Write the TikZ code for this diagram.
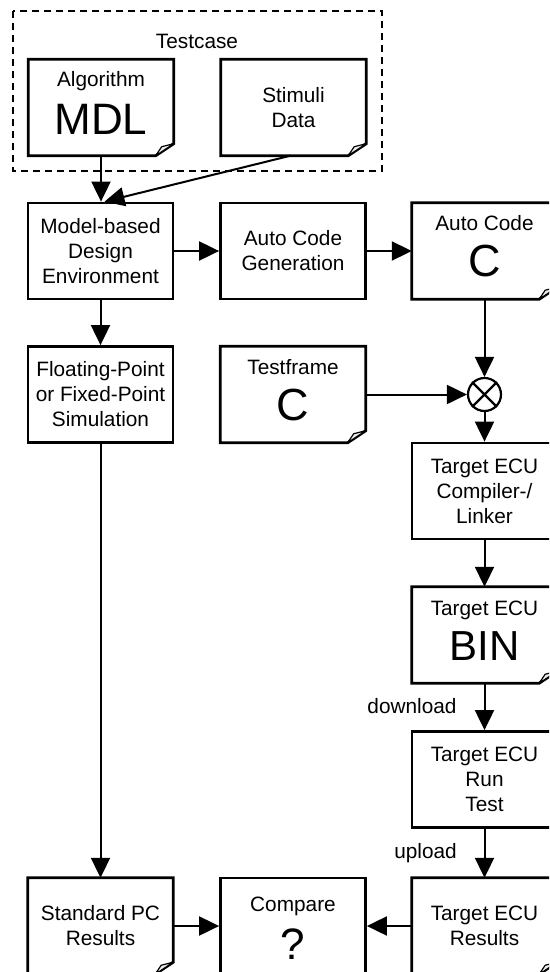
\documentclass[tikz,border=0pt]{standalone}
\usepackage{fontspec}
\setmainfont{Liberation Sans}
\usetikzlibrary{arrows.meta}
\newcommand{\docoutline}[1]{%
  \draw[line width=2.8pt, line join=miter] (#1.north west) -- (#1.north east) -- ([yshift=12pt]#1.south east) -- ([xshift=-18pt]#1.south east) -- (#1.south west) -- cycle;
  \draw[line width=1.2pt, line join=round, fill=gray!15] ([xshift=-18pt]#1.south east) -- ([xshift=-12pt,yshift=9pt]#1.south east) -- ([yshift=12pt]#1.south east) -- cycle;}
\begin{document}
\begin{tikzpicture}[x=1pt,y=-1pt,
  box/.style={draw, line width=2.8pt, minimum width=145pt, minimum height=96pt, inner sep=0pt, align=center, font=\fontsize{20.8}{25}\selectfont},
  doc/.style={minimum width=145pt, minimum height=96pt, inner sep=0pt, align=center, font=\fontsize{20.8}{25}\selectfont},
  lbl/.style={font=\fontsize{20.8}{25}\selectfont, anchor=base, inner sep=0pt},
  big/.style={anchor=base, inner sep=0pt},
  arr/.style={line width=2pt, -{Triangle[length=20pt,width=19pt]}},
]
\useasboundingbox (0,0) rectangle (549,972);
\clip (0,0) rectangle (549,972);
\fill[white] (0,0) rectangle (549,972);

% testcase frame
\draw[line width=1.6pt, dash pattern=on 7pt off 5pt] (13,11) rectangle (382,171);
\node[lbl] (tc) at (197,48) {Testcase};

% nodes
\node[doc] (alg) at (101,107.5) {};
\node[doc] (stim) at (293.5,107.5) {Stimuli\\Data};
\node[box] (mbd) at (100.5,251) {Model-based\\Design\\Environment};
\node[box] (acg) at (293,251) {Auto Code\\Generation};
\node[doc] (acc) at (484.5,251) {};
\node[box] (fps) at (100.5,394.5) {Floating-Point\\or Fixed-Point\\Simulation};
\node[doc] (tf) at (293,394.5) {};
\node[circle, draw, line width=2.2pt, minimum size=33pt, inner sep=0pt] (mix) at (484.5,394.5) {};
\node[box] (comp) at (484.5,491) {Target ECU\\Compiler-/\\Linker};
\node[doc] (bin) at (484.5,635) {};
\node[box] (run) at (484.5,779.5) {Target ECU\\Run\\Test};
\node[doc] (spc) at (100.5,926) {Standard PC\\Results};
\node[box] (cmp) at (293,926) {};
\node[doc] (res) at (484.5,926) {Target ECU\\Results};

\foreach \n in {alg,stim,acc,tf,bin,spc,res} {\docoutline{\n}}

% cross in circle
\draw[line width=2.2pt] (mix.north west) -- (mix.south east) (mix.north east) -- (mix.south west);

% labels inside document boxes
\node[lbl] (algT) at (101,86) {Algorithm};
\node[big, font=\fontsize{44}{44}\selectfont] (algB) at (101,134.5) {MDL};
\node[lbl] (accT) at (484.5,230) {Auto Code};
\node[big, font=\fontsize{45}{45}\selectfont] (accB) at (484.5,276.5) {C};
\node[lbl] (tfT) at (293,374) {Testframe};
\node[big, font=\fontsize{45}{45}\selectfont] (tfB) at (293,420) {C};
\node[lbl] (binT) at (484.5,615) {Target ECU};
\node[big, font=\fontsize{42}{42}\selectfont] (binB) at (484.5,660) {BIN};
\node[lbl] (cmpT) at (293,911) {Compare};
\node[big, font=\fontsize{44}{44}\selectfont] (cmpB) at (293,959) {?};

% edge labels
\node[lbl] (dl) at (412,713) {download};
\node[lbl] (ul) at (425.5,858.5) {upload};

% connectors
\draw[arr] (alg.south) -- (alg.south |- mbd.north);
\draw[arr] ([xshift=-3pt]stim.south) -- ([xshift=4pt]mbd.north);
\draw[arr] (mbd) -- (acg);
\draw[arr] (acg) -- (acc);
\draw[arr] (acc) -- (mix);
\draw[arr] (tf) -- (mix);
\draw[arr] (mix) -- (comp);
\draw[arr] (comp) -- (bin);
\draw[arr] (bin) -- (run);
\draw[arr] (run) -- (res);
\draw[arr] (mbd) -- (fps);
\draw[arr] (fps) -- (spc);
\draw[arr] (spc) -- (cmp);
\draw[arr] (res) -- (cmp);
\end{tikzpicture}
\end{document}
